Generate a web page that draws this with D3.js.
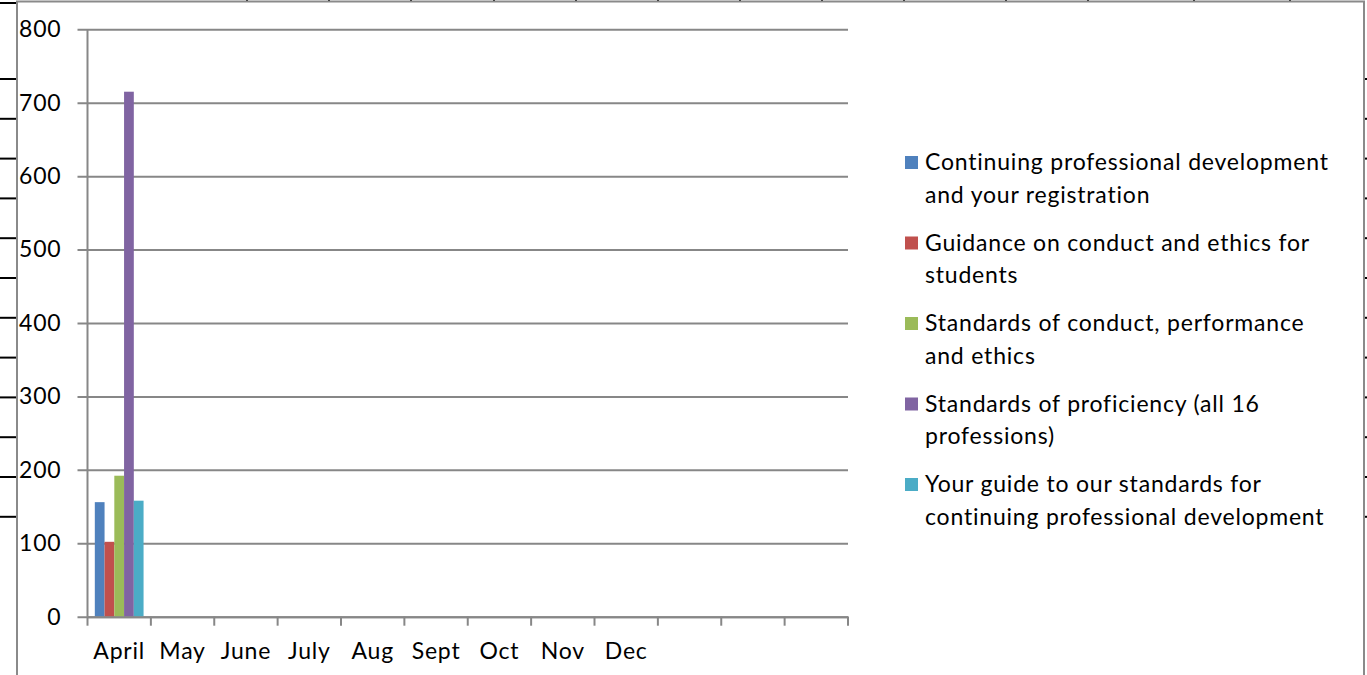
<!DOCTYPE html>
<html>
<head>
<meta charset="utf-8">
<script src="https://cdn.jsdelivr.net/npm/d3@7"></script>
<style>
  html, body { margin: 0; padding: 0; background: #fff; }
  svg { display: block; }
  text { font-family: Lato, "Open Sans", "Noto Sans", sans-serif; fill: #000;
         font-variant-ligatures: none; font-feature-settings: "liga" 0, "clig" 0, "dlig" 0; }
</style>
</head>
<body>
<svg id="chart" width="1367" height="675"></svg>
<script>
// ---- data ----
const categories = ["April", "May", "June", "July", "Aug", "Sept", "Oct", "Nov", "Dec", "", "", ""];
const seriesNames = [
  "Continuing professional development and your registration",
  "Guidance on conduct and ethics for students",
  "Standards of conduct, performance and ethics",
  "Standards of proficiency (all 16 professions)",
  "Your guide to our standards for continuing professional development"
];
const legendLines = [
  ["Continuing professional development", "and your registration"],
  ["Guidance on conduct and ethics for", "students"],
  ["Standards of conduct, performance", "and ethics"],
  ["Standards of proficiency (all 16", "professions)"],
  ["Your guide to our standards for", "continuing professional development"]
];
const cpdRegistration   = [156, null, null, null, null, null, null, null, null, null, null, null];
const guidanceStudents  = [102, null, null, null, null, null, null, null, null, null, null, null];
const standardsConduct  = [192, null, null, null, null, null, null, null, null, null, null, null];
const standardsProf     = [715, null, null, null, null, null, null, null, null, null, null, null];
const guideCpd          = [158, null, null, null, null, null, null, null, null, null, null, null];
const yTicks = [0, 100, 200, 300, 400, 500, 600, 700, 800];
const colors = ["#4F81BD", "#C0504D", "#9BBB59", "#8064A2", "#4BACC6"];

const series = [cpdRegistration, guidanceStudents, standardsConduct, standardsProf, guideCpd];

// ---- layout ----
const W = 1367, H = 675;
const plot = { left: 87.5, right: 848, top: 29.3, bottom: 616.7 };
const svg = d3.select("#chart");
svg.append("rect").attr("width", W).attr("height", H).attr("fill", "#fff");

// spreadsheet surroundings (decorative frame)
const frame = svg.append("g");
const rowYs = [3].concat(d3.range(12).map(i => 79 + i * 39.8));
frame.selectAll("line.row").data(rowYs).join("line")
  .attr("x1", 0).attr("x2", 17).attr("y1", d => d).attr("y2", d => d)
  .attr("stroke", "#000").attr("stroke-width", 2);
const rowYsR = d3.range(12).map(i => 79 + i * 39.8);
frame.selectAll("line.rowr").data(rowYsR).join("line")
  .attr("x1", 1364).attr("x2", 1367).attr("y1", d => d).attr("y2", d => d)
  .attr("stroke", "#000").attr("stroke-width", 2);
const colXs = [247, 329, 411, 494, 576, 658, 740, 822, 904, 1006, 1088, 1194, 1290];
frame.selectAll("line.col").data(colXs).join("line")
  .attr("x1", d => d).attr("x2", d => d).attr("y1", 0).attr("y2", 2)
  .attr("stroke", "#000").attr("stroke-width", 2);
// chart object border
frame.append("path")
  .attr("d", `M17,${H} L17,1.5 L1364,1.5 L1364,${H}`)
  .attr("fill", "none").attr("stroke", "#8a8a8a").attr("stroke-width", 2);

// ---- scales ----
const x = d3.scaleBand().domain(d3.range(categories.length)).range([plot.left, plot.right]).paddingInner(0).paddingOuter(0);
const y = d3.scaleLinear().domain([0, 800]).range([plot.bottom, plot.top]);
const gap = 1.5; // Excel gap width 150%
const xs = d3.scaleBand().domain(d3.range(series.length))
  .range([x.bandwidth() * gap / (series.length + gap) / 2, x.bandwidth() - x.bandwidth() * gap / (series.length + gap) / 2]);

const gridColor = "#878787";
const fontSize = 23;
const ls = "0.8px";

// gridlines + y axis
const yAxis = d3.axisLeft(y).tickValues(yTicks).tickSize(plot.right - plot.left + 10).tickPadding(16);
const gy = svg.append("g").attr("transform", `translate(${plot.right},0)`).call(yAxis);
gy.select(".domain").remove();
gy.selectAll(".tick line").attr("stroke", gridColor).attr("stroke-width", 2);
gy.selectAll(".tick text").attr("font-size", fontSize).attr("letter-spacing", ls).attr("fill", "#000")
  .attr("font-family", "Lato, sans-serif");

// bars
series.forEach((vals, si) => {
  svg.append("g").selectAll("rect")
    .data(vals.map((v, i) => ({ v, i })).filter(d => d.v != null))
    .join("rect")
    .attr("x", d => x(d.i) + xs(si))
    .attr("width", xs.bandwidth())
    .attr("y", d => y(d.v))
    .attr("height", d => y(0) - y(d.v))
    .attr("fill", colors[si]);
});

// y axis line
svg.append("line").attr("x1", plot.left).attr("x2", plot.left).attr("y1", plot.top).attr("y2", plot.bottom)
  .attr("stroke", gridColor).attr("stroke-width", 2);

// x axis
const xAxis = d3.axisBottom(x).tickFormat(i => categories[i]).tickSize(0).tickPadding(26);
const gx = svg.append("g").attr("transform", `translate(0,${plot.bottom})`).call(xAxis);
gx.select(".domain").attr("stroke", gridColor).attr("stroke-width", 2);
gx.selectAll(".tick text").attr("font-size", fontSize).attr("letter-spacing", ls).attr("fill", "#000")
  .attr("font-family", "Lato, sans-serif");
const edges = d3.range(categories.length + 1).map(i => i < categories.length ? x(i) : plot.right);
gx.selectAll("line.edge").data(edges).join("line")
  .attr("x1", d => d).attr("x2", d => d).attr("y1", 0).attr("y2", 9)
  .attr("stroke", gridColor).attr("stroke-width", 2);

// legend
const lg = svg.append("g").attr("transform", "translate(905,162)");
const items = lg.selectAll("g").data(seriesNames).join("g")
  .attr("transform", (d, i) => `translate(0,${i * 80.5})`);
items.append("rect").attr("x", 0).attr("y", -6).attr("width", 13).attr("height", 13)
  .attr("fill", (d, i) => colors[i]);
items.each(function (d, i) {
  const t = d3.select(this).append("text").attr("x", 20).attr("y", 8)
    .attr("font-size", fontSize).attr("letter-spacing", ls);
  legendLines[i].forEach((line, li) => {
    t.append("tspan").attr("x", 20).attr("dy", li === 0 ? 0 : 32.5).text(line);
  });
});
</script>
</body>
</html>
